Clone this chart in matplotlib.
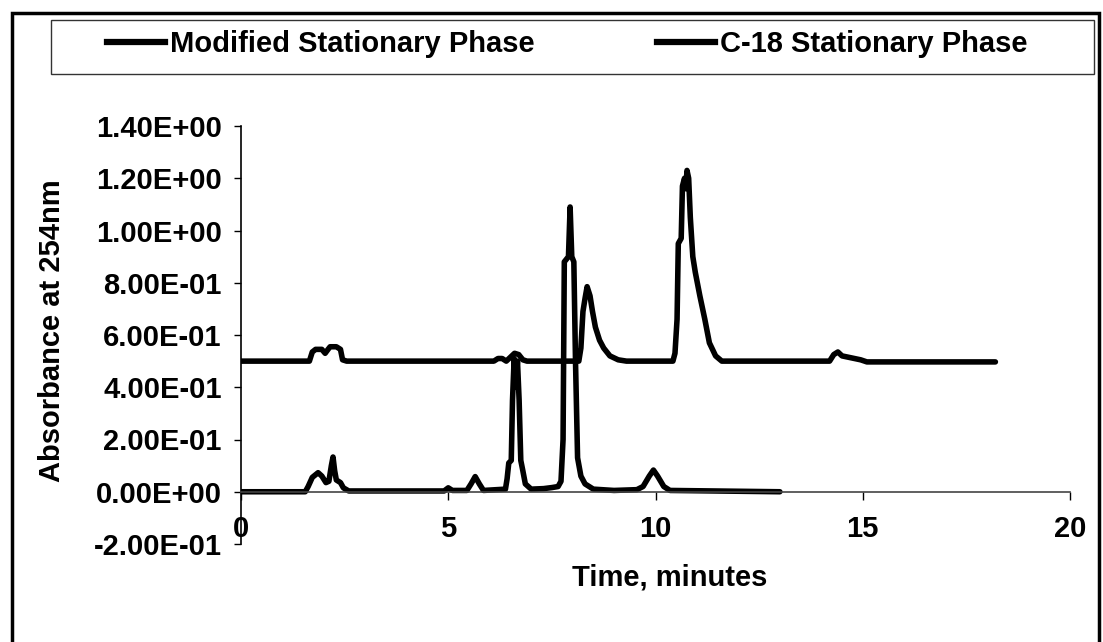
import matplotlib
matplotlib.use("Agg")
import matplotlib.pyplot as plt
from matplotlib.lines import Line2D
from matplotlib.patches import Rectangle

plt.rcParams['font.family'] = ['Liberation Sans', 'DejaVu Sans']
plt.rcParams['font.weight'] = 'bold'

# chromatogram: time (min) vs absorbance
modified_time = [0, 1.65, 1.72, 1.8, 1.95, 2.03, 2.1, 2.15, 2.3, 2.4, 2.45, 2.55,
                 6.1, 6.2, 6.3, 6.4, 6.5, 6.6, 6.7, 6.8, 6.9,
                 8.15, 8.2, 8.25, 8.3, 8.35, 8.42, 8.48, 8.55, 8.65, 8.75, 8.9, 9.1, 9.3,
                 10.42, 10.47, 10.52, 10.55, 10.62, 10.65, 10.7, 10.73, 10.76, 10.8,
                 10.84, 10.9, 10.96, 11.07, 11.19, 11.3, 11.45, 11.6,
                 14.2, 14.3, 14.4, 14.5, 14.65, 14.8, 14.95, 15.1, 18.2]
modified_abs = [0.5, 0.5, 0.535, 0.545, 0.545, 0.53, 0.545, 0.555, 0.555, 0.545, 0.505, 0.5,
                0.5, 0.51, 0.51, 0.5, 0.515, 0.53, 0.525, 0.505, 0.5,
                0.5, 0.55, 0.69, 0.74, 0.785, 0.75, 0.69, 0.63, 0.58, 0.55, 0.52, 0.505, 0.5,
                0.5, 0.53, 0.66, 0.95, 0.97, 1.17, 1.2, 1.16, 1.23, 1.2,
                1.05, 0.9, 0.84, 0.75, 0.66, 0.57, 0.52, 0.5,
                0.5, 0.525, 0.535, 0.52, 0.515, 0.51, 0.505, 0.497, 0.497]

c18_time = [0, 1.55, 1.62, 1.72, 1.86, 1.95, 2.05, 2.12, 2.18, 2.22, 2.26, 2.3, 2.4, 2.47, 2.6,
            4.9, 5.0, 5.1, 5.45, 5.55, 5.65, 5.75, 5.85,
            6.38, 6.42, 6.46, 6.52, 6.55, 6.59, 6.63, 6.67, 6.71, 6.75, 6.8, 6.86, 7.0,
            7.3, 7.5, 7.65, 7.72, 7.77, 7.8, 7.9, 7.94, 7.98, 8.03, 8.07, 8.12, 8.2, 8.3, 8.5,
            9.0, 9.55, 9.7, 9.85, 9.95, 10.05, 10.2, 10.35, 13.0]
c18_abs = [0, 0, 0.02, 0.055, 0.073, 0.06, 0.035, 0.04, 0.1, 0.133, 0.08, 0.045, 0.035, 0.015, 0.003,
           0.003, 0.015, 0.005, 0.005, 0.03, 0.058, 0.03, 0.005,
           0.01, 0.05, 0.11, 0.12, 0.35, 0.51, 0.4, 0.5, 0.35, 0.12, 0.08, 0.03, 0.01,
           0.012, 0.016, 0.02, 0.04, 0.2, 0.88, 0.9, 1.09, 0.9, 0.88, 0.5, 0.13, 0.06, 0.03, 0.01,
           0.005, 0.008, 0.02, 0.06, 0.083, 0.06, 0.02, 0.005, 0.0]

series_names = ['Modified Stationary Phase', 'C-18 Stationary Phase']
x_ticks = [0, 5, 10, 15, 20]
y_ticks = [-0.2, 0.0, 0.2, 0.4, 0.6, 0.8, 1.0, 1.2, 1.4]
y_tick_labels = ['-2.00E-01', '0.00E+00', '2.00E-01', '4.00E-01', '6.00E-01',
                 '8.00E-01', '1.00E+00', '1.20E+00', '1.40E+00']

W, H = 1103, 642
fig = plt.figure(figsize=(W / 100, H / 100), dpi=100)

# outer chart frame and legend frame (pixel boxes -> figure fraction)
fig.patches.append(Rectangle((12 / W, -0.05), 1087 / W, 1.05 - 13 / H, transform=fig.transFigure,
                             fill=False, lw=2.5, ec='black'))
fig.patches.append(Rectangle((51 / W, 1 - 74 / H), 1043 / W, 54 / H, transform=fig.transFigure,
                             fill=False, lw=1.0, ec='#333333'))

ax = fig.add_axes([241 / W, (H - 544) / H, 829 / W, 418 / H])
ax.plot(modified_time, modified_abs, color='black', lw=4, solid_joinstyle='round', solid_capstyle='round')
ax.plot(c18_time, c18_abs, color='black', lw=4, solid_joinstyle='round', solid_capstyle='round')

ax.set_xlim(0, 20)
ax.set_ylim(-0.2, 1.4)
ax.spines['top'].set_visible(False)
ax.spines['right'].set_visible(False)
ax.spines['bottom'].set_position(('data', 0))
ax.spines['left'].set_linewidth(1.2)
ax.spines['bottom'].set_linewidth(1.2)
ax.spines['bottom'].set_color('#444444')

ax.set_xticks(x_ticks)
ax.set_xticklabels([str(v) for v in x_ticks])
ax.set_yticks(y_ticks)
ax.set_yticklabels(y_tick_labels)
ax.tick_params(axis='y', direction='out', length=5, width=1, pad=9, labelsize=21)
ax.tick_params(axis='x', direction='out', length=6, width=1, pad=11, labelsize=21)

fig.text(52 / W, 1 - 331 / H, 'Absorbance at 254nm', rotation=90, ha='center', va='center',
         fontsize=21, fontweight='bold')
fig.text(670 / W, 1 - 578 / H, 'Time, minutes', ha='center', va='center',
         fontsize=21, fontweight='bold')

handles = [Line2D([], [], color='black', lw=4.5) for _ in series_names]
fig.legend(handles, series_names, loc='center left', bbox_to_anchor=(107 / W, 1 - 44 / H),
           ncol=2, frameon=False, fontsize=21, handlelength=2.0, handletextpad=0.15,
           columnspacing=4.2, borderaxespad=0, borderpad=0)

fig.savefig('out.png', dpi=100)
